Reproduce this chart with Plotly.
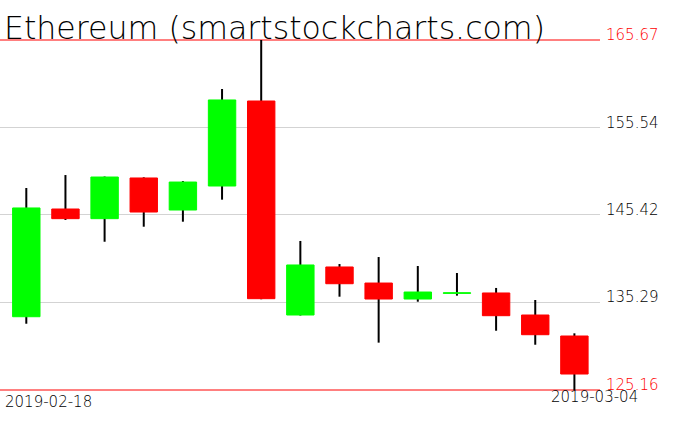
import plotly.graph_objects as go
from datetime import datetime, timedelta

# ---- data ----
dates = ["2019-02-18", "2019-02-19", "2019-02-20", "2019-02-21", "2019-02-22",
         "2019-02-23", "2019-02-24", "2019-02-25", "2019-02-26", "2019-02-27",
         "2019-02-28", "2019-03-01", "2019-03-02", "2019-03-03", "2019-03-04"]
opens  = [133.64, 146.11, 144.99, 149.70, 145.99, 148.77, 158.61, 133.84, 139.40, 137.54,
          135.69, 136.35, 136.39, 133.84, 131.41]
highs  = [148.54, 150.04, 149.87, 149.78, 149.35, 160.00, 165.67, 142.41, 139.74, 140.55,
          139.51, 138.70, 136.97, 135.58, 131.72]
lows   = [132.83, 144.84, 142.32, 144.06, 144.64, 147.19, 135.67, 133.78, 135.96, 130.64,
          135.38, 136.08, 132.02, 130.40, 125.16]
closes = [146.23, 144.99, 149.81, 145.76, 149.23, 158.73, 135.73, 139.63, 137.46, 135.69,
          136.50, 136.40, 133.76, 131.56, 127.01]
tick_vals = [165.67, 155.54, 145.42, 135.29, 125.16]
tick_text = ["165.67", "155.54", "145.42", "135.29", "125.16"]
title_text = "Ethereum (smartstockcharts.com)"

# ---- layout constants ----
W, H = 676, 431
top_px, bot_px = 40, 390          # pixel rows of max / min ticks
pad_px = 4
ymax, ymin = max(tick_vals), min(tick_vals)
ppu = (bot_px - top_px) / (ymax - ymin)
pad = pad_px / ppu
FONT = "DejaVu Sans ExtraLight, DejaVu Sans"
px_per_day = 39.15
wick_ms = 2 / px_per_day * 86400000

fig = go.Figure()

# wicks (bar layer sits beneath the candlestick bodies)
fig.add_trace(go.Bar(
    x=dates, y=[h - l for h, l in zip(highs, lows)], base=lows, width=wick_ms,
    marker=dict(color="black", line=dict(width=0)), hoverinfo="skip", showlegend=False))

# bodies
fig.add_trace(go.Candlestick(
    x=dates, open=opens, close=closes,
    high=[max(o, c) for o, c in zip(opens, closes)],
    low=[min(o, c) for o, c in zip(opens, closes)],
    increasing=dict(fillcolor="#00ff00", line=dict(color="#00ff00", width=1)),
    decreasing=dict(fillcolor="#ff0000", line=dict(color="#ff0000", width=1)),
    whiskerwidth=0, showlegend=False, hoverinfo="skip"))

d0 = datetime.fromisoformat(dates[0])
d1 = datetime.fromisoformat(dates[-1])
xr = [d0 - timedelta(days=26.3 / px_per_day), d1 + timedelta(days=(600 - 26.3) / px_per_day - 14)]

annotations = []
for v, t in zip(tick_vals, tick_text):
    col = "#ff0000" if v in (ymax, ymin) else "black"
    annotations.append(dict(x=1, xref="paper", y=v, yref="y", text=t, showarrow=False,
                            xanchor="left", yanchor="bottom", xshift=4, yshift=-6,
                            font=dict(family=FONT, size=15, color=col, weight=200)))
annotations.append(dict(x=0, xref="paper", y=ymin, yref="y", text=dates[0], showarrow=False,
                        xanchor="left", yanchor="top", xshift=3, yshift=-1,
                        font=dict(family=FONT, size=15, color="black", weight=200)))
annotations.append(dict(x=dates[-1], xref="x", y=ymin, yref="y", text=dates[-1], showarrow=False,
                        xanchor="center", yanchor="top", xshift=20, yshift=4,
                        font=dict(family=FONT, size=15, color="black", weight=200)))
annotations.append(dict(x=0, xref="paper", y=ymax, yref="y", text=title_text, showarrow=False,
                        xanchor="left", yanchor="bottom", xshift=2, yshift=-8,
                        font=dict(family=FONT, size=31.6, color="black", weight=200)))

fig.update_layout(
    width=W, height=H,
    margin=dict(l=0, r=76, t=top_px - pad_px, b=H - bot_px - pad_px, pad=0),
    paper_bgcolor="white", plot_bgcolor="white",
    boxgap=0.3, boxgroupgap=0,
    showlegend=False, hovermode=False,
    xaxis=dict(type="date", range=xr, showticklabels=False, showgrid=False, zeroline=False,
               showline=False, rangeslider=dict(visible=False), ticks=""),
    yaxis=dict(range=[ymin - pad, ymax + pad], tickvals=tick_vals[1:-1], showticklabels=False,
               showgrid=True, gridcolor="#d3d3d3", gridwidth=1, zeroline=False, showline=False,
               ticks=""),
    shapes=[dict(type="line", xref="paper", x0=0, x1=1, yref="y", y0=v, y1=v,
                 line=dict(color="#ff0000", width=1), layer="below")
            for v in (ymax, ymin)],
    annotations=annotations,
)

fig.write_html("out.html", config={"displayModeBar": False},
               post_script="document.body.style.margin='0';")
